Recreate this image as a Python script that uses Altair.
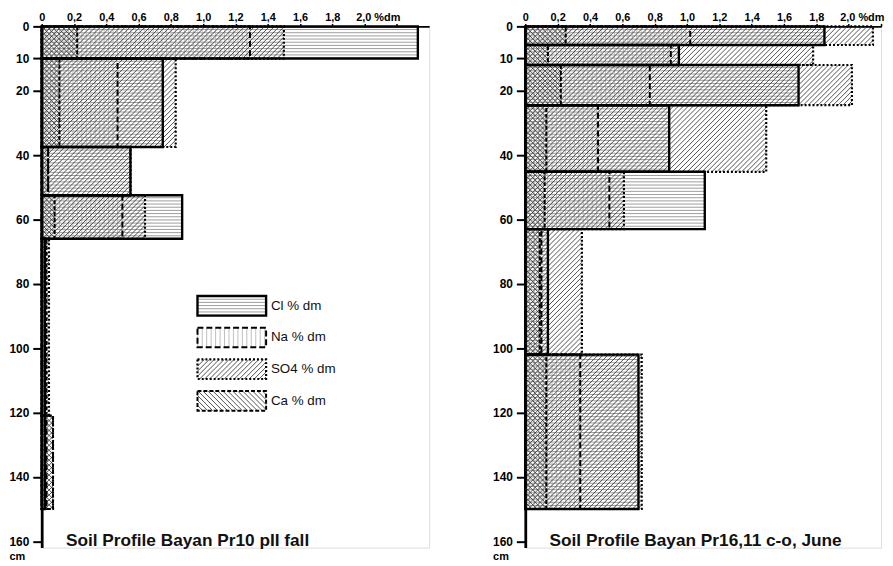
import math
import altair as alt
import pandas as pd

# ---------------- data ----------------
# Left profile: Soil Profile Bayan Pr10 pII fall
L_TOP = [0, 10, 37.5, 52.5, 66, 121]
L_BOT = [10, 37.5, 52.5, 66, 121, 150]
L_CL = [2.33, 0.75, 0.55, 0.87, 0.02, 0.02]
L_NA = [1.29, 0.47, 0.04, 0.50, 0.02, 0.03]
L_SO4 = [1.50, 0.83, 0.55, 0.64, 0.045, 0.07]
L_CA = [0.22, 0.11, 0.04, 0.08, 0.03, 0.07]

# Right profile: Soil Profile Bayan Pr16,11 c-o, June
R_TOP = [0, 5.8, 12, 24.5, 45.2, 63, 102]
R_BOT = [5.8, 12, 24.5, 45.2, 63, 102, 150]
R_CL = [1.85, 0.95, 1.69, 0.89, 1.11, 0.14, 0.70]
R_NA = [1.02, 0.90, 0.77, 0.45, 0.52, 0.10, 0.34]
R_SO4 = [2.15, 1.78, 2.02, 1.49, 0.61, 0.35, 0.72]
R_CA = [0.25, 0.14, 0.22, 0.13, 0.12, 0.09, 0.13]

SERIES = ["Cl", "Na", "SO4", "Ca"]
LEGEND_LABELS = ["Cl % dm", "Na % dm", "SO4 % dm", "Ca % dm"]
X_TICKS = [0, 0.2, 0.4, 0.6, 0.8, 1.0, 1.2, 1.4, 1.6, 1.8, 2.0, 2.2]
Y_TICKS = [0, 10, 20, 40, 60, 80, 100, 120, 140, 160]
TITLE_L = "Soil Profile Bayan Pr10 pII fall"
TITLE_R = "Soil Profile Bayan Pr16,11 c-o, June"

# ---------------- layout / style ----------------
KX = 163.0          # px per %dm
KY = 3.245          # px per cm
Y_MAX = 162
HEIGHT = round(Y_MAX * KY)
FONT = "Liberation Sans"

HATCH = {  # kind, spacing px, colour
    "Cl": ("h", 3.2, "#8c8c8c"),
    "Na": ("v", 4.5, "#b4b4b4"),
    "SO4": ("/", 5.0, "#333333"),
    "Ca": ("\\", 5.0, "#333333"),
}
BORDER = {  # dash, width
    "SO4": ([2, 2], 2.2),
    "Ca": ([4, 2], 2.0),
    "Na": ([6, 3], 2.0),
    "Cl": ([1, 0], 2.4),
}
LEG_V0, LEG_V1 = 0.965, 1.39     # legend box extent (%dm units)
LEG_D0, LEG_PITCH, LEG_H = 83.8, 9.85, 6.1
LEG_TEXT_V = 1.42
TITLE_V, TITLE_D = 0.15, 160


def hatch(v0, v1, d0, d1, kind, step, kx):
    X0, X1, Y0, Y1 = v0 * kx, v1 * kx, d0 * KY, d1 * KY
    out = []
    if X1 - X0 < 0.6 or Y1 - Y0 < 0.6:
        return out
    if kind == "h":
        y = math.floor(Y0 / step) * step + step
        while y < Y1 - 0.3:
            out.append((X0, y, X1, y))
            y += step
    elif kind == "v":
        x = math.floor(X0 / step) * step + step
        while x < X1 - 0.3:
            out.append((x, Y0, x, Y1))
            x += step
    elif kind == "/":
        c = math.floor((X0 + Y0) / step) * step + step
        while c < X1 + Y1:
            xa, xb = max(X0, c - Y1), min(X1, c - Y0)
            if xb - xa > 0.3:
                out.append((xa, c - xa, xb, c - xb))
            c += step
    else:
        c = math.floor((Y0 - X1) / step) * step + step
        while c < Y1 - X0:
            xa, xb = max(X0, Y0 - c), min(X1, Y1 - c)
            if xb - xa > 0.3:
                out.append((xa, xa + c, xb, xb + c))
            c += step
    return [(round(a / kx, 4), round(b / KY, 3), round(p / kx, 4), round(q / KY, 3))
            for a, b, p, q in out]


def panel(top, bot, vals, xmax, title, legend):
    width = round(xmax * KX)
    kx = width / xmax
    rows = []
    for s in SERIES:
        for i in range(len(top)):
            rows.append(dict(series=s, x0=0.0, val=vals[s][i], top=top[i], bot=bot[i]))
    if legend:
        for j, s in enumerate(SERIES):
            d0 = LEG_D0 + j * LEG_PITCH
            rows.append(dict(series=s, x0=LEG_V0, val=LEG_V1, top=d0, bot=d0 + LEG_H))
    bars = pd.DataFrame(rows)

    segs = []
    for r in rows:
        kind, step, _ = HATCH[r["series"]]
        for a, b, p, q in hatch(r["x0"], r["val"], r["top"], r["bot"], kind, step, kx):
            segs.append(dict(series=r["series"], x=a, y=b, x2=p, y2=q))
    segs = pd.DataFrame(segs)

    xaxis = alt.Axis(
        orient="top", values=X_TICKS, title=None, grid=False,
        labelExpr="datum.value > 2.05 ? '' : (datum.value < 0.01 ? '0' : (datum.value > 1.95 ? '2,0 %dm' : replace(format(datum.value, '.1f'), '.', ',')))",
        labelAlign={"condition": {"test": "datum.value > 1.95 && datum.value < 2.05", "value": "left"}, "value": "center"},
        labelOffset={"condition": {"test": "datum.value > 1.95 && datum.value < 2.05", "value": -9}, "value": 0},
        labelFlush=False, labelOverlap=False, labelFont=FONT, labelFontWeight="bold",
        labelFontSize=11, labelColor="black", labelPadding=1,
        domainColor="black", domainWidth=2, tickColor="black", tickWidth=1.5, tickSize=3,
    )
    yaxis = alt.Axis(
        orient="left", values=Y_TICKS, grid=False, format="d",
        labelFlush=False, labelOverlap=False, labelFont=FONT, labelFontWeight="bold",
        labelFontSize=12, labelColor="black", labelPadding=4,
        domainColor="black", domainWidth=2.8, tickColor="black", tickWidth=2, tickSize=9,
        title="cm", titleAngle=0, titleAlign="left", titleBaseline="middle",
        titleX=-33, titleY=535, titleFont=FONT, titleFontSize=11, titleFontWeight="bold",
        titleColor="black",
    )
    xs = alt.Scale(domain=[0, xmax], nice=False, zero=True)
    ys = alt.Scale(domain=[0, Y_MAX], nice=False, reverse=True)

    def X(f):
        return alt.X(f"{f}:Q", scale=xs, axis=xaxis)

    def Y(f):
        return alt.Y(f"{f}:Q", scale=ys, axis=yaxis)

    layers = [
        alt.Chart(segs).mark_rule(strokeWidth=0.85).encode(
            x=X("x"), x2="x2", y=Y("y"), y2="y2",
            color=alt.Color("series:N", legend=None, scale=alt.Scale(
                domain=SERIES, range=[HATCH[s][2] for s in SERIES])),
        )
    ]
    for s in ["SO4", "Ca", "Na", "Cl"]:
        dash, w = BORDER[s]
        layers.append(
            alt.Chart(bars[bars.series == s]).mark_rect(
                fill="transparent", stroke="black", strokeWidth=w, strokeDash=dash
            ).encode(x=X("x0"), x2="val", y=Y("top"), y2="bot")
        )
    if legend:
        ldf = pd.DataFrame(dict(label=LEGEND_LABELS,
                                v=[LEG_TEXT_V] * 4,
                                d=[LEG_D0 + j * LEG_PITCH + LEG_H / 2 for j in range(4)]))
        layers.append(
            alt.Chart(ldf).mark_text(align="left", baseline="middle", font=FONT,
                                     fontSize=13.5, color="#111").encode(
                x=X("v"), y=Y("d"), text="label:N")
        )
    tdf = pd.DataFrame(dict(t=[title], v=[TITLE_V], d=[TITLE_D]))
    layers.append(
        alt.Chart(tdf).mark_text(align="left", baseline="middle", font=FONT,
                                 fontSize=17.4, fontWeight="bold", color="#111").encode(
            x=X("v"), y=Y("d"), text="t:N")
    )
    return alt.layer(*layers).properties(width=width, height=HEIGHT)


left = panel(L_TOP, L_BOT, {"Cl": L_CL, "Na": L_NA, "SO4": L_SO4, "Ca": L_CA},
             2.4, TITLE_L, True)
right = panel(R_TOP, R_BOT, {"Cl": R_CL, "Na": R_NA, "SO4": R_SO4, "Ca": R_CA},
              2.2, TITLE_R, False)

chart = (
    alt.hconcat(left, right, spacing=62)
    .properties(padding={"left": 0, "top": 0, "right": 0, "bottom": 0})
    .configure_view(stroke=None)
    .configure(background="white")
)
chart.save("out.html", embed_options={"renderer": "svg", "actions": False})
